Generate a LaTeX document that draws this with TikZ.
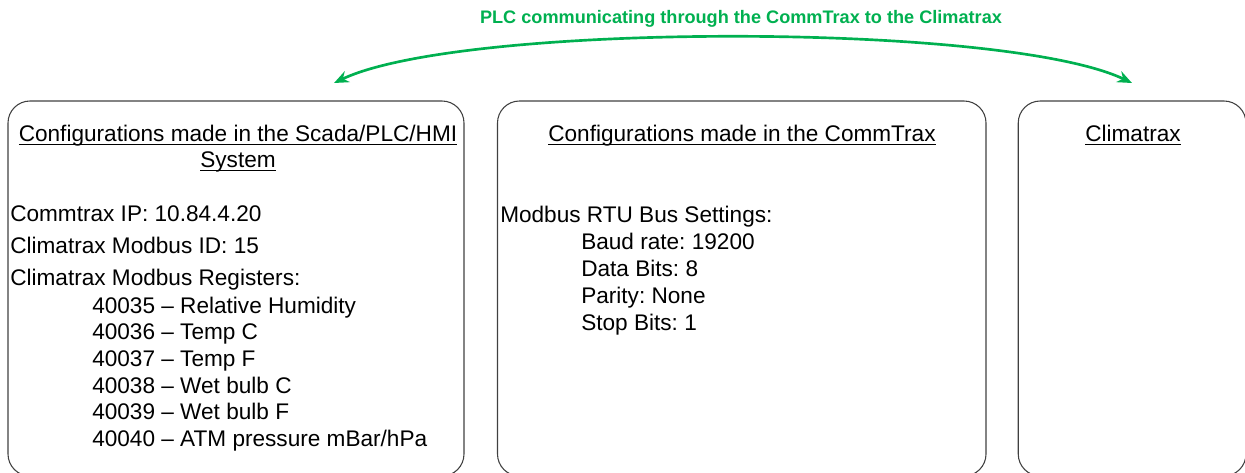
\documentclass[tikz,border=0pt]{standalone}
\usepackage{fontspec}
\setmainfont{Liberation Sans}
\usepackage{xcolor}
\usepackage{tikz}
\usetikzlibrary{arrows.meta,positioning}

\definecolor{linkgreen}{RGB}{0,176,80}
\newcommand{\uln}[1]{\leavevmode\setbox0\hbox{#1}\rlap{\rule[-3pt]{\wd0}{1pt}}\box0}
\frenchspacing

\begin{document}
\begin{tikzpicture}[
    x=0.75pt, y=-0.75pt,
    panel/.style={rectangle, draw=black!75, line width=0.8pt, rounded corners=16.5pt},
    head/.style={inner sep=0pt, anchor=north, align=center, font=\fontsize{16.95}{19.5}\selectfont},
    txt/.style={inner sep=0pt, anchor=base west, font=\fontsize{16.95}{19.5}\selectfont},
    link/.style={{Stealth[length=11pt,width=9pt]}-{Stealth[length=11pt,width=9pt]}, line width=2pt, draw=linkgreen}
]
\useasboundingbox (0,0) rectangle (1245,472);

% Panels
\node[panel, minimum width=342pt, minimum height=281.25pt] (plc) at (236,288.5) {};
\node[panel, minimum width=366.4pt, minimum height=281.25pt] (commtrax) at (741.75,288.5) {};
\node[panel, minimum width=170.8pt, minimum height=281.25pt] (climatrax) at (1132.1,288.5) {};

% Headings
\node[head] (plchead) at (238,124.6) {\uln{Configurations made in the Scada/PLC/HMI}\\\uln{System}};
\node[head] (commhead) at (742,124.6) {\uln{Configurations made in the CommTrax}};
\node[head] (climhead) at (1133,124.6) {\uln{Climatrax}};

% Scada/PLC/HMI settings
\node[txt] (plcip) at (10,221.5) {Commtrax IP: 10.84.4.20};
\node[txt] (plcid) at (10,253.5) {Climatrax Modbus ID: 15};
\node[txt] (plcregs) at (10,285.5) {Climatrax Modbus Registers:};
\node[txt] (reg35) at (92,313) {40035 -- Relative Humidity};
\node[txt] (reg36) at (92,339.7) {40036 -- Temp C};
\node[txt] (reg37) at (92,366.4) {40037 -- Temp F};
\node[txt] (reg38) at (92,393.1) {40038 -- Wet bulb C};
\node[txt] (reg39) at (92,419.8) {40039 -- Wet bulb F};
\node[txt] (reg40) at (92,446.5) {40040 -- ATM pressure mBar/hPa};

% CommTrax bus settings
\node[txt] (busset) at (500,222) {Modbus RTU Bus Settings:};
\node[txt] (baud) at (581,249) {Baud rate: 19200};
\node[txt] (databits) at (581,276) {Data Bits: 8};
\node[txt] (parity) at (581,303) {Parity: None};
\node[txt] (stopbits) at (581,330) {Stop Bits: 1};

% Communication link
\node[inner sep=0pt, anchor=base, text=linkgreen, font=\bfseries\fontsize{13.6}{16}\selectfont] (linktitle) at (741,23.5) {PLC communicating through the CommTrax to the Climatrax};
\coordinate (plcend) at (334,83);
\coordinate (climend) at (1132,83);
\draw[link] (plcend) .. controls (462,22) and (1004,22) .. (climend);

\end{tikzpicture}
\end{document}
